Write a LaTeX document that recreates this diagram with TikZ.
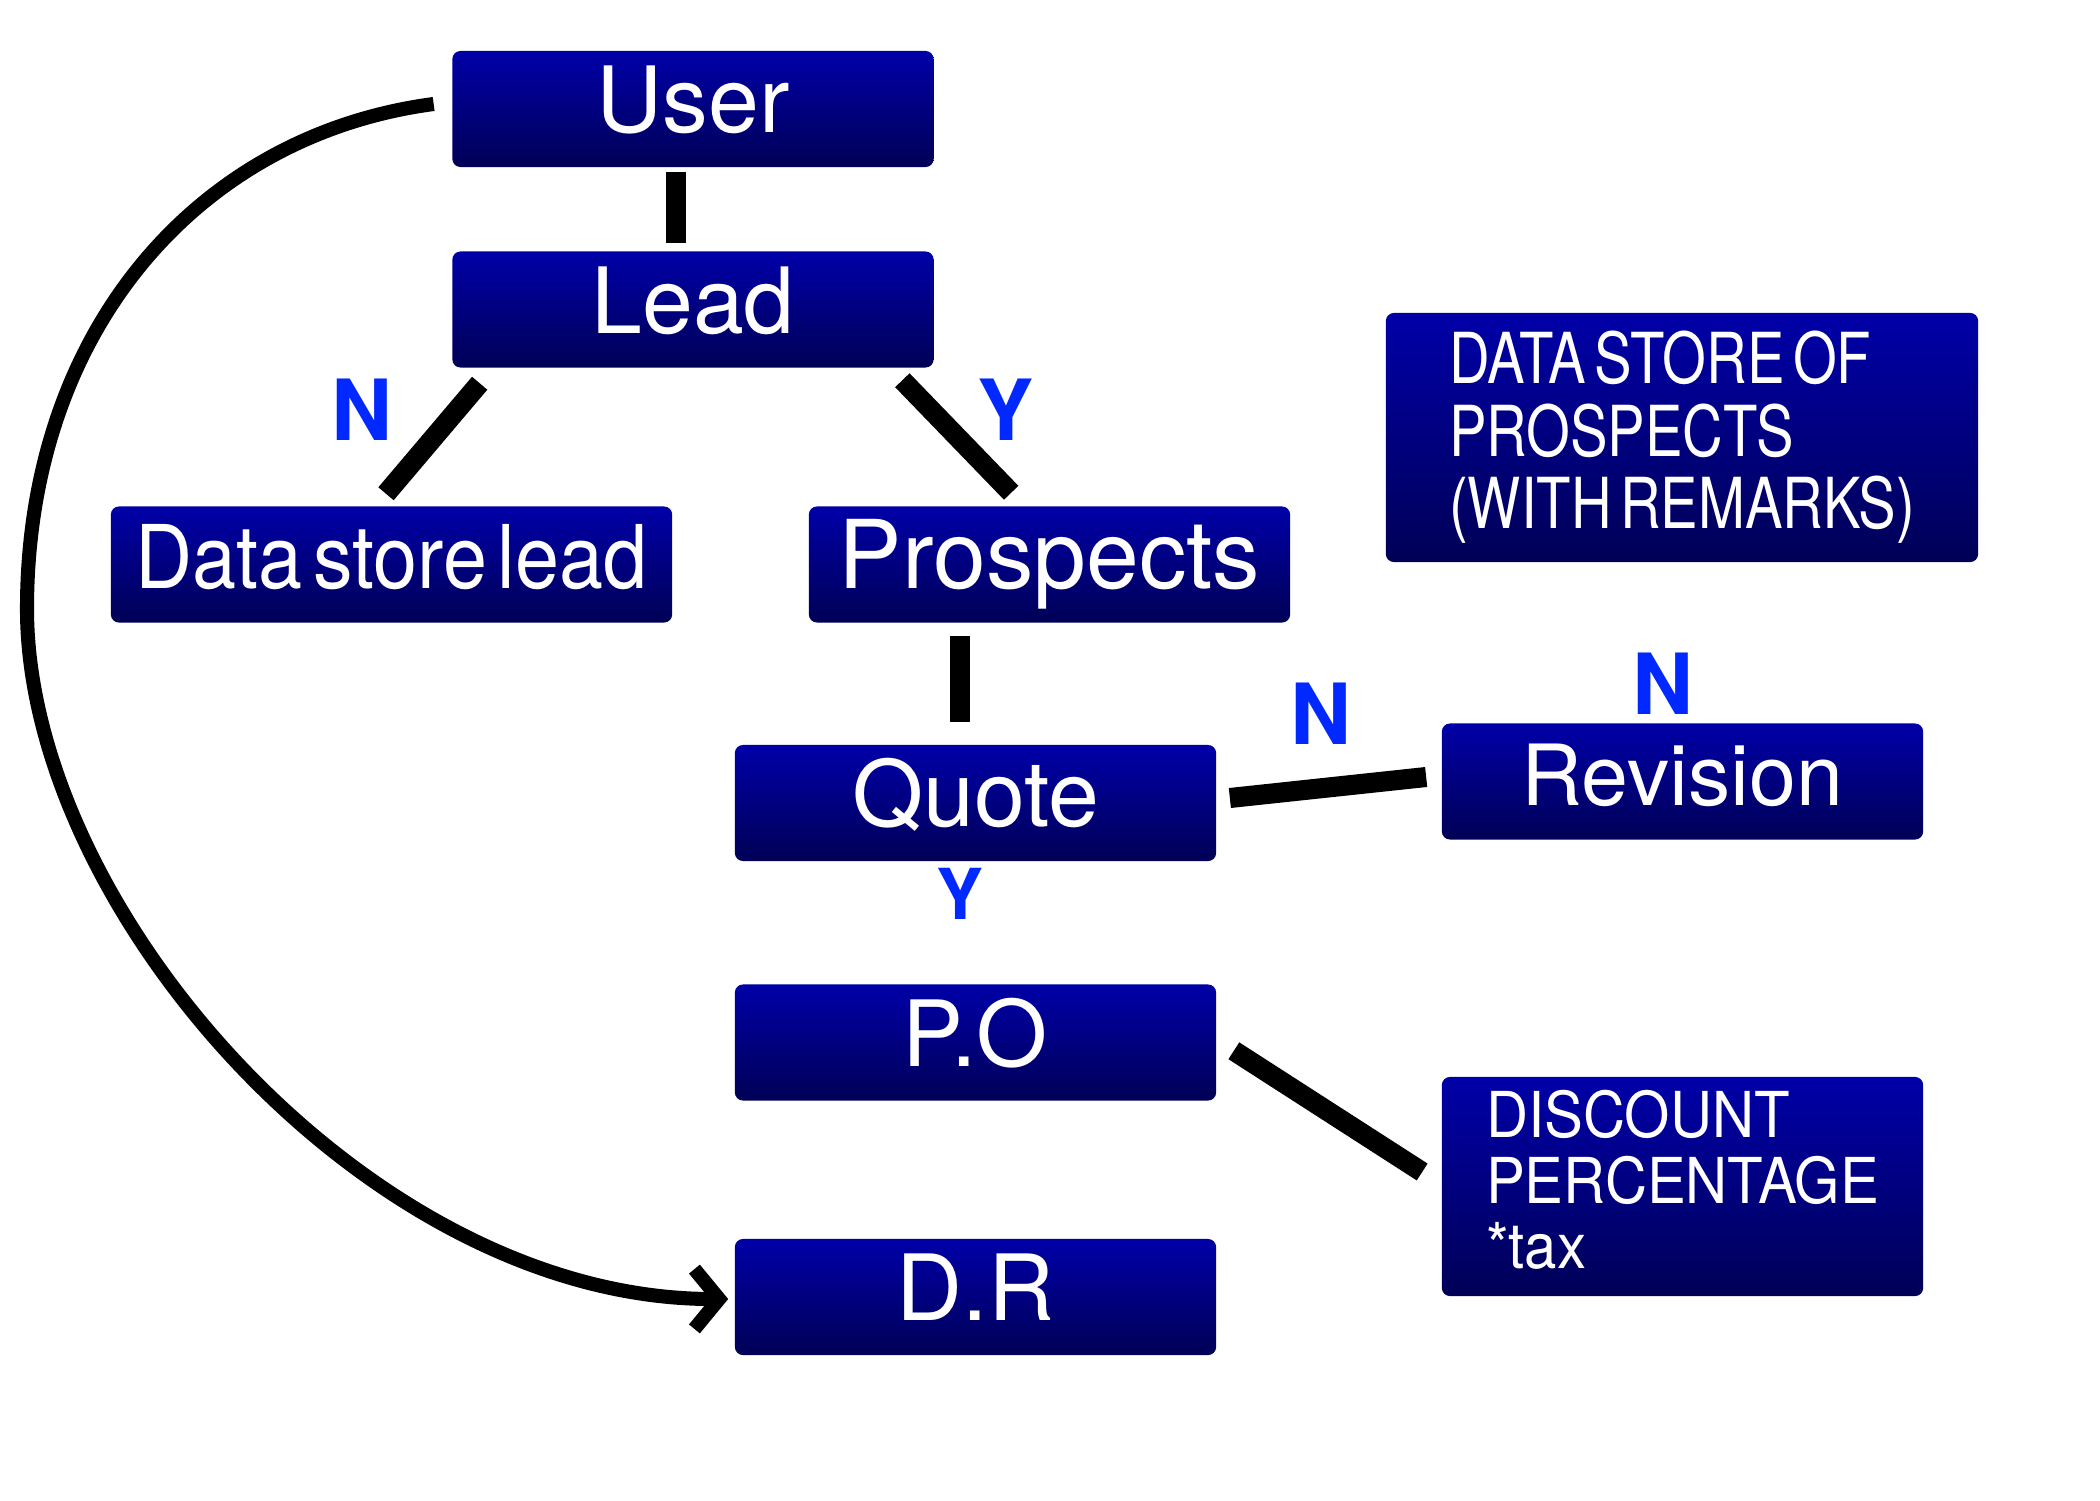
\documentclass[tikz,border=0pt]{standalone}
\usepackage{fontspec}
\setmainfont{TeX Gyre Heros}
\newfontfamily\leadfont[FakeStretch=0.9]{TeX Gyre Heros}
\newfontfamily\storefont[FakeStretch=0.8]{TeX Gyre Heros}
\newfontfamily\discfont[FakeStretch=0.92]{TeX Gyre Heros}
\newcommand\tightspace{\spaceskip=0.12em\relax}
\usetikzlibrary{calc,arrows.meta}

\definecolor{boxtop}{RGB}{0,0,168}
\definecolor{boxbot}{RGB}{0,0,86}
\definecolor{ynblue}{RGB}{0,40,255}

\tikzset{
  boxbase/.style={rounded corners=2.3pt, top color=boxtop, bottom color=boxbot, text=white, inner sep=0pt},
  flowbox/.style={boxbase, minimum width=4.81cm, minimum height=1.16cm, text height=18.7pt, text depth=5.2pt, font=\fontsize{26}{26}\selectfont},
  notebox/.style={boxbase, align=left},
  linkbar/.style={line width=5.7pt},
  loopline/.style={line width=4pt, -{Straight Barb[length=7pt,width=17pt]}},
  yn/.style={text=ynblue, inner sep=0pt, font=\bfseries\fontsize{24}{24}\selectfont}
}

\begin{document}
\begin{tikzpicture}[x=0.01cm, y=-0.01cm]
  \useasboundingbox (0,0) rectangle (2100,1500);

  % Main flow
  \node[flowbox] (User) at (693,109) {User};
  \node[flowbox] (Lead) at (693,309.5) {Lead};
  \node[flowbox, minimum width=5.61cm, font=\leadfont\fontsize{25}{25}\selectfont\tightspace] (DSLead) at (391.5,564.5) {Data store lead};
  \node[flowbox, font=\fontsize{27}{27}\selectfont] (Prospects) at (1049.5,564.5) {Prospects};
  \node[flowbox] (Quote) at (975.5,803) {Quote};
  \node[flowbox, font=\fontsize{24}{24}\selectfont] (Revision) at (1682.5,781.5) {Revision};
  \node[flowbox] (PO) at (975.5,1042.5) {P.O};
  \node[flowbox] (DR) at (975.5,1297) {D.R};

  % Side notes
  \node[notebox, minimum width=5.92cm, minimum height=2.49cm,
        font=\storefont\fontsize{20}{20.6}\selectfont\tightspace] (StoreNote) at (1682,437.5) {DATA STORE OF\\PROSPECTS\\(WITH REMARKS)};
  \node[notebox, minimum width=4.81cm, minimum height=2.19cm,
        font=\discfont\fontsize{18}{18.7}\selectfont] (DiscNote) at (1682.5,1186.5) {DISCOUNT\\PERCENTAGE\\{*}tax\rule[-4pt]{0pt}{0pt}};

  % Links
  \draw[linkbar] ($(User.south)+(-17,4)$) -- ($(Lead.north)+(-17,-8)$);
  \draw[linkbar] ($(Lead.south west)+(28,15)$) -- ($(DSLead.north)+(-5.5,-12)$);
  \draw[linkbar] ($(Lead.south east)+(-32,12)$) -- ($(Prospects.north west)+(203,-13)$);
  \draw[linkbar] ($(Prospects.south)+(-89.5,13)$) -- ($(Quote.north)+(-15.5,-22)$);
  \draw[linkbar] ($(Quote.east)+(13,-5)$) -- ($(Revision.west)+(-15,-4.5)$);
  \draw[linkbar] ($(PO.north east)+(17,67)$) -- ($(DiscNote.west)+(-19,-14.5)$);

  % Loop back from User to D.R
  \coordinate (loopbend) at (27,609);
  \draw[loopline] ($(User.west)+(-18,-5)$) .. controls +(-235,31) and +(0,-279) .. (loopbend)
    .. controls +(0,300) and +(-360,0) .. ($(DR.west)+(-6,2)$);

  % Y/N labels
  \node[yn] (N1) at (362,410) {N};
  \node[yn] (Y1) at (1006,410) {Y};
  \node[yn] (N2) at (1321,714) {N};
  \node[yn] (N3) at (1663,684) {N};
  \node[yn, font=\bfseries\fontsize{20}{20}\selectfont] (Y2) at (960,894) {Y};
\end{tikzpicture}
\end{document}
